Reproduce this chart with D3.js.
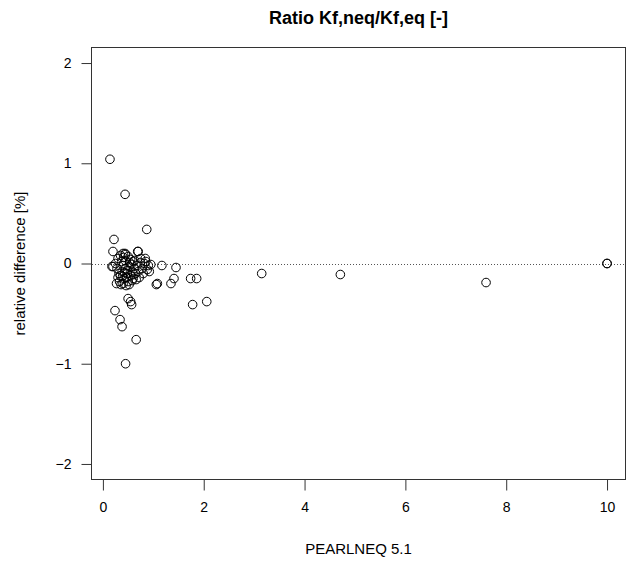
<!DOCTYPE html>
<html>
<head>
<meta charset="utf-8">
<script src="https://cdn.jsdelivr.net/npm/d3@7.9.0/dist/d3.min.js"></script>
<style>
  body { margin: 0; background: #fff; }
  text { font-family: "Liberation Sans", Arial, sans-serif; fill: #000; }
</style>
</head>
<body>
<svg id="chart" width="630" height="566"></svg>
<script>
// === Data ===
const xTicks = [0, 2, 4, 6, 8, 10];
const yTicks = [-2, -1, 0, 1, 2];

// PEARLNEQ 5.1 values
const xValues = [
  0.14, 0.44, 0.87, 0.22, 0.20, 0.18, 0.44, 0.69, 0.84, 1.17, 1.45,
  1.06, 1.08, 1.35, 1.41, 1.74, 1.86, 1.78, 2.06, 3.15, 4.71, 7.60, 10.0, 10.0,
  0.24, 0.34, 0.38, 0.66, 0.45, 0.50, 0.55, 0.57,
  0.30, 0.35, 0.40, 0.45, 0.50, 0.55, 0.60, 0.70, 0.75, 0.85, 0.90, 0.95,
  0.20, 0.25, 0.28, 0.32, 0.35, 0.38, 0.40, 0.42, 0.45, 0.48, 0.50, 0.52,
  0.55, 0.58, 0.60, 0.62, 0.65, 0.68, 0.70, 0.72, 0.78, 0.80, 0.82, 0.88,
  0.92, 0.33, 0.40, 0.46, 0.52, 0.58, 0.30, 0.37, 0.44, 0.47, 0.63, 0.66,
  0.43, 0.56, 0.27, 0.36, 0.41, 0.49, 0.53, 0.39, 0.61, 0.74
];
// relative difference [%]
const yValues = [
  1.04, 0.69, 0.34, 0.24, 0.12, -0.03, 0.10, 0.12, 0.05, -0.02, -0.04,
  -0.21, -0.20, -0.20, -0.15, -0.15, -0.15, -0.41, -0.38, -0.10, -0.11, -0.19, 0.00, 0.00,
  -0.47, -0.56, -0.63, -0.76, -1.00, -0.35, -0.38, -0.41,
  0.05, 0.08, 0.10, 0.09, 0.07, 0.04, 0.02, 0.12, 0.05, 0.02, -0.02, -0.01,
  -0.03, 0.00, -0.05, -0.10, -0.12, -0.08, -0.02, -0.15, -0.05, -0.10, -0.18, -0.03,
  -0.12, -0.08, -0.15, -0.05, -0.10, -0.02, -0.08, -0.14, -0.05, -0.10, 0.00, -0.06,
  -0.08, -0.18, -0.20, -0.22, -0.21, -0.17, -0.14, 0.02, 0.03, -0.14, 0.03, -0.16,
  -0.09, -0.01, -0.20, -0.21, 0.06, -0.07, 0.01, -0.13, -0.11, 0.01
];

const points = xValues.map((x, i) => ({ x, y: yValues[i] }));

// === Layout (R base graphics look) ===
const svg = d3.select('#chart');
const box = { left: 91, right: 626, top: 47, bottom: 480 };

const x = d3.scaleLinear().domain([-0.236, 10.376]).range([box.left, box.right]);
const y = d3.scaleLinear().domain([-2.16, 2.16]).range([box.bottom, box.top]);

// plot box
svg.append('rect')
  .attr('x', box.left + 0.5)
  .attr('y', box.top + 0.5)
  .attr('width', box.right - box.left - 1)
  .attr('height', box.bottom - box.top - 1)
  .attr('fill', 'none')
  .attr('stroke', '#333')
  .attr('stroke-width', 1);

// zero reference line (dotted)
svg.append('line')
  .attr('x1', box.left + 1).attr('x2', box.right - 1)
  .attr('y1', Math.round(y(0)) + 0.5).attr('y2', Math.round(y(0)) + 0.5)
  .attr('stroke', '#555')
  .attr('stroke-dasharray', '1,2');

// x axis
const xAxis = d3.axisBottom(x).tickValues(xTicks).tickSize(11).tickPadding(12).tickFormat(d3.format('d'));
const gx = svg.append('g')
  .attr('transform', `translate(0,${box.bottom - 0.5})`)
  .attr('color', '#000')
  .call(xAxis);
gx.select('.domain').remove();
gx.selectAll('line').attr('stroke', '#333');
gx.selectAll('text').attr('font-size', 14).attr('fill', '#000');

// y axis
const yAxis = d3.axisLeft(y).tickValues(yTicks).tickSize(10).tickPadding(10).tickFormat(d3.format('d'));
const gy = svg.append('g')
  .attr('transform', `translate(${box.left + 0.5},0)`)
  .attr('color', '#000')
  .call(yAxis);
gy.select('.domain').remove();
gy.selectAll('line').attr('stroke', '#333');
gy.selectAll('text').attr('font-size', 14).attr('fill', '#000');

// points
svg.append('g')
  .selectAll('circle')
  .data(points)
  .join('circle')
  .attr('cx', (d) => x(d.x))
  .attr('cy', (d) => y(d.y))
  .attr('r', 4.3)
  .attr('fill', 'none')
  .attr('stroke', '#000')
  .attr('stroke-width', 1);

// title and axis labels
svg.append('text')
  .attr('x', (box.left + box.right) / 2)
  .attr('y', 24)
  .attr('text-anchor', 'middle')
  .attr('font-size', 18)
  .attr('font-weight', 'bold')
  .text('Ratio Kf,neq/Kf,eq [-]');

svg.append('text')
  .attr('x', (box.left + box.right) / 2)
  .attr('y', 554)
  .attr('text-anchor', 'middle')
  .attr('font-size', 15)
  .text('PEARLNEQ 5.1');

svg.append('text')
  .attr('transform', `translate(25,${(box.top + box.bottom) / 2}) rotate(-90)`)
  .attr('text-anchor', 'middle')
  .attr('font-size', 15)
  .text('relative difference [%]');
</script>
</body>
</html>
